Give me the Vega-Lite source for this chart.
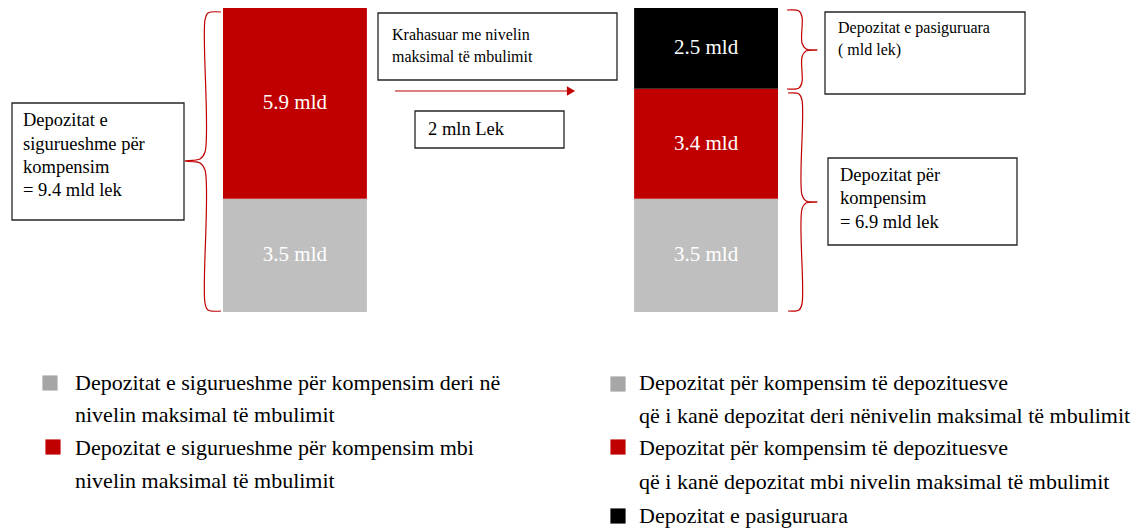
{
  "$schema": "https://vega.github.io/schema/vega-lite/v6.json",
  "width": 1137,
  "height": 529,
  "autosize": {"type": "fit", "contains": "padding"},
  "padding": 0,
  "background": "white",
  "config": {"view": {"stroke": null}, "font": "Liberation Serif"},
  "datasets": {
    "deposits": [
      {"scenario": "Para", "segment": "deri", "rank": 1, "value": 3.5, "label": "3.5 mld"},
      {"scenario": "Para", "segment": "mbi", "rank": 2, "value": 5.9, "label": "5.9 mld"},
      {"scenario": "Pas", "segment": "deri", "rank": 1, "value": 3.5, "label": "3.5 mld"},
      {"scenario": "Pas", "segment": "mbi", "rank": 2, "value": 3.4, "label": "3.4 mld"},
      {"scenario": "Pas", "segment": "pasig", "rank": 3, "value": 2.5, "label": "2.5 mld"}
    ],
    "boxes": [
      {"x": 12, "x2": 184, "y": 103, "y2": 220},
      {"x": 378, "x2": 617, "y": 13, "y2": 80},
      {"x": 415, "x2": 564, "y": 111, "y2": 148},
      {"x": 825, "x2": 1025, "y": 12, "y2": 94},
      {"x": 828, "x2": 1017, "y": 158, "y2": 245}
    ],
    "boxTextSmall": [
      {"x": 392, "y": 35, "t": "Krahasuar me nivelin"},
      {"x": 392, "y": 57, "t": "maksimal  të  mbulimit"},
      {"x": 838, "y": 28, "t": "Depozitat e pasiguruara"},
      {"x": 838, "y": 50, "t": "( mld lek)"}
    ],
    "boxTextLarge": [
      {"x": 23, "y": 120, "t": "Depozitat e"},
      {"x": 23, "y": 144, "t": "sigurueshme për"},
      {"x": 23, "y": 167, "t": "kompensim"},
      {"x": 23, "y": 190, "t": "=  9.4 mld lek"},
      {"x": 428, "y": 129, "t": "2 mln Lek"},
      {"x": 840, "y": 175, "t": "Depozitat për"},
      {"x": 840, "y": 198, "t": "kompensim"},
      {"x": 840, "y": 222, "t": "= 6.9 mld lek"}
    ],
    "legendText": [
      {"x": 75, "y": 383, "t": "Depozitat e sigurueshme për kompensim deri në"},
      {"x": 75, "y": 415, "t": "nivelin maksimal të mbulimit"},
      {"x": 75, "y": 448, "t": "Depozitat e sigurueshme për kompensim mbi"},
      {"x": 75, "y": 481, "t": "nivelin maksimal të mbulimit"},
      {"x": 639, "y": 383, "t": "Depozitat për kompensim të depozituesve"},
      {"x": 639, "y": 416, "t": "që i kanë depozitat deri nënivelin  maksimal të mbulimit"},
      {"x": 639, "y": 448, "t": "Depozitat për kompensim  të depozituesve"},
      {"x": 639, "y": 482, "t": "që i kanë depozitat mbi nivelin maksimal të mbulimit"},
      {"x": 639, "y": 516, "t": "Depozitat e pasiguruara"}
    ],
    "legendMarks": [
      {"x": 50, "y": 383, "cat": "deri"},
      {"x": 53, "y": 447, "cat": "mbi"},
      {"x": 618, "y": 384, "cat": "deri"},
      {"x": 618, "y": 447, "cat": "mbi"},
      {"x": 618, "y": 516, "cat": "pasig"}
    ],
    "braces": [
      {"b": "L", "i": 0, "x": 221, "y": 12},
      {"b": "L", "i": 1, "x": 208, "y": 13},
      {"b": "L", "i": 2, "x": 205, "y": 20},
      {"b": "L", "i": 3, "x": 205, "y": 152},
      {"b": "L", "i": 4, "x": 200, "y": 159},
      {"b": "L", "i": 5, "x": 185, "y": 161},
      {"b": "L", "i": 6, "x": 200, "y": 163},
      {"b": "L", "i": 7, "x": 205, "y": 170},
      {"b": "L", "i": 8, "x": 205, "y": 303},
      {"b": "L", "i": 9, "x": 208, "y": 310},
      {"b": "L", "i": 10, "x": 221, "y": 311},
      {"b": "R1", "i": 0, "x": 787, "y": 10},
      {"b": "R1", "i": 1, "x": 799, "y": 11},
      {"b": "R1", "i": 2, "x": 802, "y": 17},
      {"b": "R1", "i": 3, "x": 802, "y": 43},
      {"b": "R1", "i": 4, "x": 806, "y": 49},
      {"b": "R1", "i": 5, "x": 817, "y": 50},
      {"b": "R1", "i": 6, "x": 806, "y": 51},
      {"b": "R1", "i": 7, "x": 802, "y": 57},
      {"b": "R1", "i": 8, "x": 802, "y": 82},
      {"b": "R1", "i": 9, "x": 799, "y": 88},
      {"b": "R1", "i": 10, "x": 787, "y": 89},
      {"b": "R2", "i": 0, "x": 788, "y": 93},
      {"b": "R2", "i": 1, "x": 799, "y": 94},
      {"b": "R2", "i": 2, "x": 802, "y": 100},
      {"b": "R2", "i": 3, "x": 802, "y": 195},
      {"b": "R2", "i": 4, "x": 806, "y": 201},
      {"b": "R2", "i": 5, "x": 817, "y": 202},
      {"b": "R2", "i": 6, "x": 806, "y": 203},
      {"b": "R2", "i": 7, "x": 802, "y": 209},
      {"b": "R2", "i": 8, "x": 802, "y": 304},
      {"b": "R2", "i": 9, "x": 799, "y": 310},
      {"b": "R2", "i": 10, "x": 788, "y": 311}
    ],
    "arrow": [{"x": 395, "x2": 571, "y": 91}]
  },
  "layer": [
    {
      "data": {"name": "deposits"},
      "transform": [
        {"stack": "value", "groupby": ["scenario"], "sort": [{"field": "rank", "order": "ascending"}], "as": ["lo", "hi"]},
        {"calculate": "(datum.lo + datum.hi) / 2", "as": "mid"}
      ],
      "encoding": {
        "x": {"field": "scenario", "type": "nominal", "axis": null,
              "scale": {"domain": ["Para", "Pas"], "range": [223, 778], "paddingInner": 0.65, "paddingOuter": 0}}
      },
      "layer": [
        {
          "mark": {"type": "bar"},
          "encoding": {
            "y": {"field": "lo", "type": "quantitative", "axis": null,
                  "scale": {"domain": [-6.71, 9.647], "nice": false, "zero": false}},
            "y2": {"field": "hi"},
            "color": {"field": "segment", "type": "nominal", "legend": null,
                      "scale": {"domain": ["deri", "mbi", "pasig"], "range": ["#bfbfbf", "#c00000", "#000000"]}}
          }
        },
        {
          "mark": {"type": "text", "font": "Liberation Serif", "fontSize": 21, "color": "#ffffff", "baseline": "middle", "align": "center"},
          "encoding": {
            "y": {"field": "mid", "type": "quantitative"},
            "text": {"field": "label"}
          }
        }
      ]
    },
    {
      "encoding": {
        "x": {"field": "x", "type": "quantitative", "axis": null, "scale": {"domain": [0, 1137], "nice": false, "zero": false}},
        "y": {"field": "y", "type": "quantitative", "axis": null, "scale": {"domain": [0, 529], "nice": false, "zero": false, "reverse": true}}
      },
      "layer": [
        {
          "data": {"name": "boxes"},
          "mark": {"type": "rect", "fill": "#ffffff", "stroke": "#262626", "strokeWidth": 1.3},
          "encoding": {"x2": {"field": "x2"}, "y2": {"field": "y2"}}
        },
        {
          "data": {"name": "boxTextSmall"},
          "mark": {"type": "text", "font": "Liberation Serif", "fontSize": 16, "color": "#000000", "align": "left", "baseline": "middle"},
          "encoding": {"text": {"field": "t"}}
        },
        {
          "data": {"name": "boxTextLarge"},
          "mark": {"type": "text", "font": "Liberation Serif", "fontSize": 18.5, "color": "#000000", "align": "left", "baseline": "middle"},
          "encoding": {"text": {"field": "t"}}
        },
        {
          "data": {"name": "legendText"},
          "mark": {"type": "text", "font": "Liberation Serif", "fontSize": 22, "color": "#000000", "align": "left", "baseline": "middle"},
          "encoding": {"text": {"field": "t"}}
        },
        {
          "data": {"name": "legendMarks"},
          "mark": {"type": "square", "size": 230, "opacity": 1},
          "encoding": {
            "color": {"field": "cat", "type": "nominal", "legend": null,
                      "scale": {"domain": ["deri", "mbi", "pasig"], "range": ["#a6a6a6", "#c00000", "#000000"]}}
          }
        },
        {
          "data": {"name": "braces"},
          "mark": {"type": "line", "color": "#c00000", "strokeWidth": 1.2, "interpolate": "catmull-rom"},
          "encoding": {"detail": {"field": "b"}, "order": {"field": "i", "type": "quantitative"}}
        },
        {
          "data": {"name": "arrow"},
          "mark": {"type": "rule", "color": "#c00000", "strokeWidth": 1.2},
          "encoding": {"x2": {"field": "x2"}}
        },
        {
          "data": {"name": "arrow"},
          "mark": {"type": "point", "shape": "triangle-right", "filled": true, "color": "#c00000", "size": 90, "opacity": 1},
          "encoding": {"x": {"field": "x2", "type": "quantitative"}}
        }
      ]
    }
  ],
  "resolve": {"scale": {"x": "independent", "y": "independent", "color": "independent"}}
}
